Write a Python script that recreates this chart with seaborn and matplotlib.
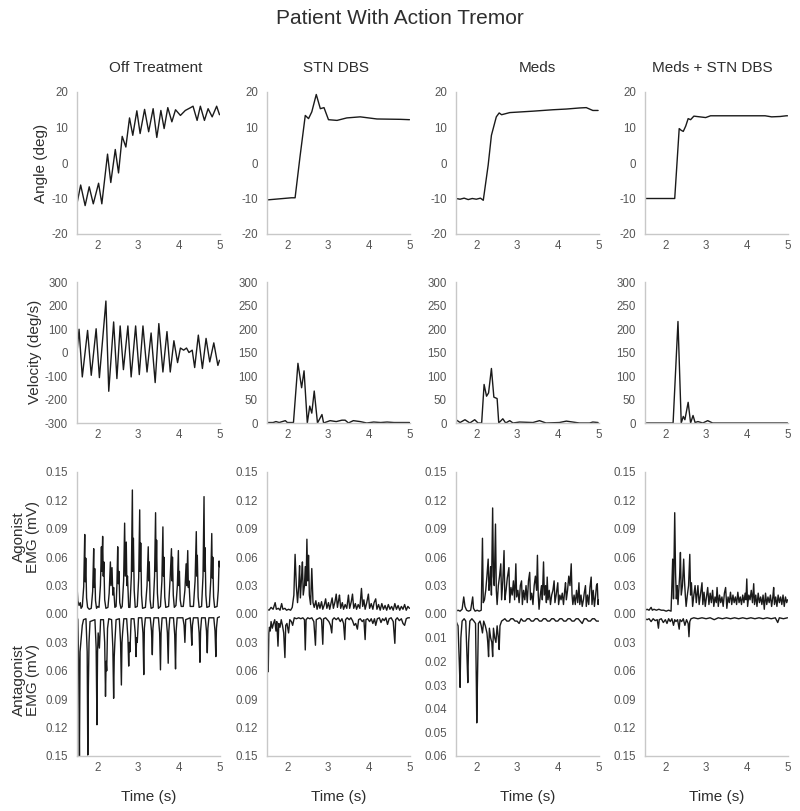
import numpy as np
import pandas as pd
import matplotlib
matplotlib.use("Agg")
import matplotlib.pyplot as plt
import seaborn as sns

sns.set_style("white")
plt.rcParams['font.family'] = ['Liberation Sans', 'DejaVu Sans']

# ---------------- data ----------------
conditions = ["Off Treatment", "STN DBS", "Meds", "Meds + STN DBS"]
x_ticks = [2, 3, 4, 5]

# Angle (deg)
off_ang_t = [1.50,1.59,1.70,1.80,1.90,2.03,2.11,2.25,2.33,2.44,2.52,2.61,2.70,2.79,2.87,2.97,3.05,3.16,3.26,3.37,3.46,3.56,3.64,3.73,3.83,3.92,4.04,4.16,4.29,4.35,4.45,4.53,4.63,4.72,4.82,4.93,5.00]
off_ang_v = [-11.4,-6.2,-12.0,-6.7,-11.5,-5.7,-11.5,2.5,-5.5,3.8,-2.8,7.5,4.5,12.7,7.8,14.7,8.3,15.1,8.8,15.3,7.2,14.8,9.7,15.6,11.6,15.0,13.4,14.8,15.6,16.0,12.0,16.0,12.0,15.3,13.0,16.0,13.6]
stn_ang_t = [1.50,1.70,1.90,2.10,2.19,2.31,2.44,2.52,2.60,2.71,2.81,2.90,3.01,3.22,3.46,3.79,4.20,4.78,5.00]
stn_ang_v = [-10.4,-10.2,-10.0,-9.8,-9.8,1.7,13.4,12.5,14.4,19.3,15.3,15.6,12.2,12.0,12.7,13.0,12.4,12.3,12.2]
med_ang_t = [1.50,1.60,1.70,1.80,1.90,2.00,2.10,2.17,2.29,2.37,2.49,2.56,2.62,2.82,3.39,3.88,4.21,4.53,4.70,4.86,4.99]
med_ang_v = [-10.0,-10.2,-9.9,-10.3,-10.0,-10.2,-9.9,-10.5,-0.6,7.8,13.0,14.1,13.6,14.2,14.6,15.0,15.2,15.5,15.6,14.8,14.8]
both_ang_t = [1.50,1.80,2.10,2.19,2.23,2.34,2.39,2.44,2.50,2.56,2.62,2.70,2.99,3.11,3.64,4.45,4.61,4.82,4.97,5.00]
both_ang_v = [-10.0,-10.0,-10.0,-10.0,-10.0,9.7,9.2,8.9,10.4,12.5,12.2,13.2,12.8,13.3,13.3,13.3,13.0,13.1,13.3,13.3]

# Velocity (deg/s)
off_vel_t = [1.50,1.55,1.63,1.76,1.85,1.97,2.05,2.21,2.28,2.40,2.48,2.56,2.64,2.75,2.83,2.94,3.03,3.12,3.22,3.32,3.42,3.51,3.61,3.71,3.79,3.88,3.97,4.04,4.12,4.19,4.25,4.33,4.39,4.48,4.58,4.67,4.76,4.86,4.96,5.00]
off_vel_v = [0,99,-104,94,-97,101,-107,219,-165,130,-111,113,-73,113,-104,113,-94,113,-83,83,-128,123,-83,89,-83,50,-43,19,10,19,0,10,-64,74,-68,60,-40,41,-55,-33]
stn_vel_t = [1.50,1.65,1.72,1.80,1.95,2.00,2.10,2.15,2.26,2.35,2.41,2.49,2.55,2.60,2.66,2.74,2.85,2.89,3.05,3.20,3.34,3.42,3.50,3.62,3.79,3.95,4.12,4.29,4.45,4.62,4.78,5.00]
stn_vel_v = [1,1,3,1,5,1,1,1,127,75,111,0,36,21,68,0,18,0,5,3,6,6,0,5,3,0,2,1,2,1,1,1]
med_vel_t = [1.50,1.60,1.72,1.84,1.96,2.04,2.13,2.19,2.25,2.30,2.37,2.43,2.51,2.55,2.65,2.72,2.82,2.90,3.06,3.39,3.55,3.71,4.04,4.21,4.53,4.78,4.86,4.99]
med_vel_v = [7,1,7,0,7,0,0,82,57,64,116,55,52,0,9,0,5,0,2,1,5,0,1,4,0,0,2,1]
both_vel_t = [1.50,2.19,2.31,2.39,2.44,2.48,2.56,2.62,2.68,2.73,2.80,2.92,3.04,3.16,5.00]
both_vel_v = [0,0,216,0,14,7,44,0,16,1,3,0,5,0,0]

# Agonist EMG (mV)
off_ag_t = [1.50,1.52,1.55,1.58,1.60,1.63,1.665,1.69,1.70,1.715,1.735,1.76,1.80,1.85,1.885,1.91,1.92,1.935,1.955,1.98,2.01,2.04,2.075,2.10,2.11,2.13,2.145,2.16,2.18,2.21,2.26,2.29,2.32,2.335,2.36,2.38,2.40,2.43,2.46,2.48,2.50,2.515,2.53,2.55,2.58,2.61,2.645,2.67,2.685,2.71,2.725,2.74,2.77,2.80,2.835,2.86,2.872,2.885,2.905,2.93,2.98,3.015,3.04,3.052,3.065,3.085,3.11,3.18,3.22,3.25,3.262,3.275,3.295,3.32,3.37,3.405,3.43,3.442,3.455,3.475,3.50,3.55,3.585,3.61,3.622,3.635,3.655,3.68,3.75,3.79,3.82,3.832,3.845,3.865,3.89,3.93,3.965,3.99,4.002,4.015,4.035,4.06,4.11,4.15,4.18,4.195,4.22,4.235,4.25,4.28,4.36,4.40,4.43,4.442,4.455,4.475,4.50,4.56,4.595,4.62,4.632,4.645,4.665,4.69,4.75,4.785,4.81,4.822,4.835,4.855,4.88,4.94,4.97,4.99,5.00]
off_ag_v = [0.030,0.014,0.009,0.012,0.006,0.008,0.029,0.084,0.034,0.059,0.017,0.007,0.005,0.006,0.024,0.069,0.028,0.048,0.014,0.006,0.008,0.007,0.030,0.071,0.045,0.082,0.040,0.055,0.015,0.006,0.007,0.022,0.055,0.030,0.049,0.020,0.028,0.007,0.008,0.030,0.071,0.032,0.045,0.012,0.006,0.008,0.035,0.096,0.040,0.076,0.030,0.040,0.007,0.007,0.040,0.131,0.045,0.080,0.025,0.007,0.008,0.038,0.110,0.045,0.075,0.020,0.006,0.007,0.030,0.071,0.035,0.055,0.015,0.006,0.007,0.040,0.107,0.045,0.078,0.022,0.006,0.008,0.035,0.092,0.040,0.060,0.018,0.007,0.008,0.040,0.069,0.035,0.060,0.020,0.007,0.009,0.030,0.067,0.030,0.045,0.015,0.008,0.008,0.025,0.053,0.030,0.067,0.028,0.035,0.008,0.008,0.035,0.087,0.040,0.062,0.018,0.007,0.008,0.040,0.124,0.045,0.070,0.020,0.007,0.008,0.035,0.085,0.038,0.060,0.018,0.007,0.008,0.025,0.056,0.050]
stn_ag_t = [1.50,1.55,1.60,1.65,1.70,1.73,1.78,1.82,1.86,1.89,1.94,1.98,2.03,2.08,2.12,2.16,2.19,2.22,2.25,2.28,2.30,2.32,2.35,2.37,2.39,2.42,2.44,2.46,2.48,2.50,2.52,2.54,2.57,2.60,2.63,2.66,2.70,2.73,2.77,2.80,2.84,2.87,2.91,2.94,2.97,3.01,3.04,3.07,3.10,3.13,3.17,3.20,3.23,3.26,3.28,3.31,3.35,3.38,3.42,3.46,3.50,3.53,3.57,3.60,3.63,3.67,3.70,3.74,3.78,3.82,3.85,3.88,3.91,3.95,3.99,4.02,4.06,4.10,4.13,4.17,4.20,4.24,4.28,4.32,4.36,4.40,4.44,4.48,4.52,4.56,4.60,4.64,4.68,4.72,4.76,4.80,4.84,4.88,4.92,4.96,5.00]
stn_ag_v = [0.005,0.004,0.007,0.005,0.012,0.005,0.006,0.004,0.011,0.005,0.006,0.004,0.005,0.004,0.007,0.020,0.063,0.030,0.012,0.030,0.051,0.017,0.040,0.055,0.020,0.030,0.050,0.030,0.079,0.035,0.062,0.020,0.010,0.048,0.012,0.007,0.014,0.005,0.012,0.006,0.013,0.005,0.010,0.016,0.006,0.012,0.005,0.011,0.017,0.006,0.013,0.021,0.007,0.015,0.020,0.006,0.012,0.005,0.010,0.006,0.020,0.006,0.013,0.021,0.006,0.011,0.005,0.010,0.006,0.027,0.008,0.015,0.005,0.012,0.021,0.006,0.011,0.005,0.012,0.016,0.005,0.010,0.004,0.011,0.005,0.009,0.004,0.010,0.005,0.008,0.004,0.011,0.005,0.009,0.004,0.008,0.005,0.010,0.004,0.008,0.006]
med_ag_t = [1.50,1.55,1.60,1.65,1.69,1.72,1.76,1.81,1.86,1.91,1.93,1.97,2.02,2.07,2.12,2.15,2.17,2.20,2.23,2.26,2.29,2.31,2.33,2.35,2.37,2.40,2.42,2.44,2.47,2.49,2.51,2.54,2.57,2.60,2.62,2.65,2.68,2.70,2.73,2.76,2.80,2.82,2.85,2.88,2.91,2.94,2.97,2.99,3.02,3.05,3.08,3.11,3.13,3.16,3.19,3.22,3.25,3.28,3.31,3.33,3.36,3.39,3.42,3.45,3.48,3.50,3.52,3.54,3.57,3.60,3.62,3.65,3.67,3.70,3.72,3.74,3.76,3.79,3.82,3.85,3.88,3.91,3.93,3.96,4.00,4.02,4.05,4.08,4.11,4.14,4.17,4.19,4.21,4.24,4.27,4.30,4.33,4.35,4.37,4.40,4.43,4.46,4.49,4.52,4.54,4.57,4.60,4.63,4.65,4.68,4.70,4.73,4.76,4.79,4.82,4.84,4.87,4.90,4.93,4.95,4.97,4.99,5.00]
med_ag_v = [0.003,0.004,0.003,0.005,0.018,0.008,0.004,0.003,0.004,0.018,0.006,0.003,0.004,0.003,0.004,0.080,0.012,0.015,0.025,0.040,0.058,0.025,0.033,0.050,0.020,0.112,0.040,0.030,0.095,0.025,0.010,0.030,0.040,0.053,0.015,0.035,0.067,0.015,0.025,0.038,0.049,0.012,0.028,0.020,0.035,0.015,0.053,0.018,0.025,0.012,0.030,0.035,0.010,0.025,0.015,0.030,0.012,0.035,0.044,0.015,0.022,0.010,0.030,0.040,0.025,0.062,0.020,0.005,0.020,0.030,0.015,0.055,0.020,0.030,0.012,0.039,0.015,0.025,0.010,0.020,0.025,0.035,0.012,0.020,0.033,0.010,0.020,0.015,0.022,0.010,0.025,0.033,0.015,0.025,0.040,0.030,0.053,0.020,0.010,0.020,0.010,0.025,0.012,0.033,0.010,0.020,0.008,0.015,0.022,0.030,0.008,0.020,0.010,0.028,0.039,0.010,0.025,0.008,0.020,0.030,0.032,0.010,0.015]
both_ag_t = [1.50,1.55,1.60,1.65,1.68,1.72,1.78,1.84,1.90,1.96,2.02,2.08,2.14,2.16,2.18,2.20,2.23,2.25,2.27,2.29,2.31,2.35,2.37,2.39,2.42,2.45,2.47,2.49,2.51,2.54,2.57,2.60,2.62,2.64,2.67,2.70,2.73,2.76,2.80,2.83,2.86,2.90,2.92,2.95,2.98,3.01,3.04,3.07,3.10,3.13,3.16,3.19,3.22,3.25,3.27,3.30,3.33,3.36,3.39,3.42,3.45,3.48,3.51,3.54,3.57,3.60,3.63,3.66,3.69,3.72,3.75,3.78,3.81,3.84,3.87,3.90,3.93,3.96,3.98,4.00,4.02,4.05,4.08,4.11,4.14,4.17,4.19,4.22,4.25,4.28,4.31,4.34,4.37,4.40,4.43,4.46,4.49,4.52,4.55,4.58,4.61,4.64,4.66,4.68,4.71,4.74,4.77,4.80,4.83,4.86,4.89,4.92,4.95,4.98,5.00]
both_ag_v = [0.004,0.005,0.004,0.007,0.004,0.005,0.004,0.005,0.004,0.004,0.003,0.004,0.003,0.030,0.058,0.016,0.107,0.044,0.016,0.030,0.010,0.040,0.065,0.020,0.030,0.058,0.035,0.020,0.008,0.020,0.030,0.063,0.020,0.033,0.008,0.020,0.030,0.012,0.030,0.010,0.020,0.033,0.010,0.023,0.008,0.018,0.028,0.010,0.022,0.012,0.025,0.008,0.018,0.012,0.028,0.008,0.020,0.012,0.018,0.008,0.022,0.028,0.006,0.018,0.012,0.023,0.010,0.020,0.012,0.018,0.010,0.023,0.012,0.018,0.010,0.020,0.012,0.022,0.015,0.037,0.008,0.020,0.015,0.025,0.012,0.032,0.010,0.020,0.008,0.022,0.012,0.018,0.010,0.020,0.005,0.022,0.010,0.018,0.012,0.020,0.008,0.018,0.028,0.010,0.018,0.008,0.020,0.012,0.018,0.010,0.020,0.008,0.018,0.012,0.015]

# Antagonist EMG (mV, drawn downward)
off_an_t = [1.50,1.52,1.54,1.56,1.575,1.60,1.63,1.66,1.72,1.75,1.765,1.78,1.795,1.82,1.94,1.97,1.99,2.005,2.02,2.05,2.08,2.15,2.18,2.20,2.215,2.23,2.25,2.28,2.35,2.38,2.40,2.415,2.43,2.46,2.54,2.57,2.59,2.605,2.62,2.65,2.72,2.75,2.77,2.785,2.80,2.83,2.90,2.93,2.95,2.965,2.98,3.01,3.09,3.12,3.14,3.155,3.18,3.30,3.33,3.35,3.365,3.39,3.50,3.53,3.55,3.565,3.59,3.69,3.72,3.74,3.755,3.78,3.87,3.90,3.92,3.935,3.96,4.10,4.13,4.15,4.17,4.28,4.30,4.32,4.335,4.36,4.47,4.50,4.52,4.535,4.56,4.65,4.68,4.70,4.715,4.74,4.86,4.89,4.91,4.925,4.95,5.00]
off_an_v = [0.003,0.006,0.050,0.150,0.040,0.027,0.012,0.006,0.005,0.040,0.149,0.075,0.030,0.008,0.006,0.035,0.117,0.040,0.020,0.036,0.006,0.006,0.030,0.087,0.050,0.060,0.015,0.005,0.006,0.035,0.089,0.045,0.030,0.006,0.005,0.030,0.075,0.030,0.020,0.005,0.005,0.025,0.055,0.030,0.040,0.005,0.005,0.020,0.045,0.025,0.030,0.004,0.004,0.020,0.064,0.015,0.004,0.004,0.018,0.043,0.015,0.004,0.004,0.020,0.059,0.020,0.004,0.004,0.020,0.052,0.018,0.004,0.004,0.022,0.058,0.018,0.004,0.004,0.012,0.030,0.006,0.004,0.015,0.033,0.012,0.004,0.004,0.020,0.051,0.018,0.004,0.004,0.018,0.041,0.015,0.004,0.004,0.018,0.045,0.015,0.004,0.003]
stn_an_t = [1.50,1.515,1.53,1.545,1.56,1.58,1.60,1.63,1.66,1.69,1.72,1.74,1.77,1.79,1.82,1.85,1.88,1.91,1.94,1.96,1.99,2.03,2.06,2.10,2.13,2.17,2.22,2.28,2.33,2.38,2.42,2.44,2.46,2.50,2.55,2.60,2.65,2.69,2.71,2.75,2.80,2.84,2.87,2.89,2.94,2.98,3.02,3.06,3.09,3.11,3.15,3.20,3.25,3.30,3.34,3.38,3.41,3.43,3.47,3.52,3.56,3.60,3.64,3.68,3.72,3.75,3.79,3.84,3.88,3.91,3.93,3.97,4.02,4.06,4.10,4.14,4.17,4.21,4.26,4.30,4.34,4.38,4.42,4.46,4.50,4.55,4.60,4.64,4.66,4.70,4.75,4.80,4.84,4.88,4.92,4.96,5.00]
stn_an_v = [0.012,0.040,0.061,0.020,0.014,0.018,0.008,0.015,0.010,0.006,0.018,0.008,0.034,0.010,0.014,0.006,0.012,0.020,0.046,0.012,0.010,0.020,0.006,0.008,0.012,0.004,0.005,0.004,0.005,0.004,0.006,0.038,0.006,0.004,0.005,0.004,0.008,0.033,0.006,0.005,0.004,0.006,0.032,0.005,0.004,0.006,0.008,0.012,0.020,0.006,0.004,0.006,0.004,0.008,0.005,0.010,0.027,0.006,0.004,0.006,0.004,0.007,0.012,0.010,0.016,0.006,0.005,0.008,0.006,0.027,0.006,0.005,0.008,0.005,0.010,0.005,0.012,0.005,0.004,0.009,0.005,0.007,0.004,0.011,0.005,0.004,0.008,0.031,0.006,0.004,0.007,0.005,0.010,0.012,0.005,0.004,0.004]
med_an_t = [1.50,1.55,1.58,1.60,1.62,1.65,1.70,1.74,1.77,1.79,1.81,1.84,1.89,1.94,1.98,2.00,2.01,2.03,2.05,2.09,2.12,2.15,2.18,2.22,2.26,2.28,2.30,2.32,2.35,2.38,2.40,2.42,2.45,2.48,2.51,2.54,2.56,2.58,2.62,2.70,2.75,2.80,2.85,2.90,2.95,3.00,3.05,3.10,3.15,3.20,3.25,3.30,3.35,3.40,3.45,3.50,3.55,3.60,3.65,3.70,3.75,3.80,3.85,3.90,3.95,4.00,4.05,4.10,4.15,4.20,4.25,4.30,4.35,4.40,4.45,4.50,4.55,4.60,4.65,4.70,4.75,4.80,4.85,4.90,4.95,5.00]
med_an_v = [0.003,0.005,0.020,0.031,0.010,0.003,0.002,0.003,0.018,0.029,0.012,0.003,0.002,0.003,0.004,0.030,0.046,0.025,0.004,0.003,0.005,0.008,0.003,0.005,0.008,0.012,0.018,0.006,0.010,0.012,0.018,0.006,0.010,0.012,0.005,0.010,0.015,0.005,0.003,0.002,0.003,0.003,0.002,0.002,0.003,0.003,0.004,0.002,0.003,0.003,0.002,0.002,0.003,0.003,0.002,0.002,0.003,0.003,0.002,0.002,0.003,0.003,0.002,0.002,0.003,0.003,0.002,0.002,0.003,0.003,0.002,0.002,0.003,0.003,0.002,0.002,0.003,0.004,0.002,0.002,0.003,0.003,0.002,0.002,0.003,0.003]
both_an_t = [1.50,1.55,1.60,1.65,1.70,1.75,1.80,1.83,1.85,1.90,1.95,2.00,2.04,2.08,2.12,2.16,2.20,2.23,2.26,2.30,2.34,2.36,2.40,2.44,2.48,2.52,2.56,2.58,2.60,2.63,2.70,2.80,2.90,3.00,3.10,3.20,3.30,3.40,3.50,3.60,3.70,3.80,3.90,4.00,4.10,4.20,4.30,4.40,4.50,4.60,4.70,4.76,4.80,4.90,5.00]
both_an_v = [0.005,0.006,0.005,0.008,0.005,0.007,0.006,0.015,0.006,0.005,0.009,0.006,0.010,0.005,0.008,0.005,0.012,0.006,0.008,0.006,0.016,0.006,0.008,0.005,0.012,0.006,0.010,0.024,0.008,0.005,0.004,0.005,0.004,0.005,0.004,0.006,0.004,0.005,0.004,0.005,0.004,0.005,0.004,0.005,0.004,0.005,0.004,0.005,0.004,0.005,0.004,0.009,0.004,0.005,0.004]

angle_t = [off_ang_t, stn_ang_t, med_ang_t, both_ang_t]
angle_v = [off_ang_v, stn_ang_v, med_ang_v, both_ang_v]
vel_t = [off_vel_t, stn_vel_t, med_vel_t, both_vel_t]
vel_v = [off_vel_v, stn_vel_v, med_vel_v, both_vel_v]
ag_t = [off_ag_t, stn_ag_t, med_ag_t, both_ag_t]
ag_v = [off_ag_v, stn_ag_v, med_ag_v, both_ag_v]
an_t = [off_an_t, stn_an_t, med_an_t, both_an_t]
an_v = [off_an_v, stn_an_v, med_an_v, both_an_v]

angle_ticks = [20, 10, 0, -10, -20]
vel_ticks_off = [300, 200, 100, 0, -100, -200, -300]
vel_ticks_on = [300, 250, 200, 150, 100, 50, 0]
emg_top_ticks = [0.15, 0.12, 0.09, 0.06, 0.03, 0.00]
emg_bottom_ticks = [0.03, 0.06, 0.09, 0.12, 0.15]
emg_bottom_ticks_meds = [0.01, 0.02, 0.03, 0.04, 0.05, 0.06]

# ---------------- figure ----------------
W, H = 800, 811
fig = plt.figure(figsize=(W / 100, H / 100), dpi=100)

col_left = [77, 267, 456, 645]
col_w = 142.5
rows = [(92, 234), (282, 423), (472, 756)]

LINE = '#1a1a1a'
SPINE = '#c8c8c8'
TICK = '#555555'
TEXT = '#2e2e2e'


def make_ax(c, r):
    top, bot = rows[r]
    return fig.add_axes([col_left[c] / W, 1 - bot / H, col_w / W, (bot - top) / H])


def fmt(v):
    s = f"{v:g}"
    return s.replace('\u2212', '-')


def style(ax, yticks, ylabels, ylim):
    ax.set_xlim(1.5, 5)
    ax.set_ylim(*ylim)
    ax.set_xticks(x_ticks)
    ax.set_xticklabels([str(x) for x in x_ticks])
    ax.set_yticks(yticks)
    ax.set_yticklabels(ylabels)
    for s in ['top', 'right']:
        ax.spines[s].set_visible(False)
    for s in ['left', 'bottom']:
        ax.spines[s].set_color(SPINE)
        ax.spines[s].set_linewidth(1.0)
    ax.tick_params(axis='both', length=0, labelsize=8.3, colors=TICK)
    ax.tick_params(axis='y', pad=6.5)
    ax.tick_params(axis='x', pad=4)
    ax.set_xlabel('')
    ax.set_ylabel('')


for c in range(4):
    # angle
    ax = make_ax(c, 0)
    sns.lineplot(x=angle_t[c], y=angle_v[c], ax=ax, color=LINE, linewidth=1.0,
                 estimator=None, sort=False)
    style(ax, angle_ticks, [fmt(v) for v in angle_ticks], (-20, 20))

    # velocity
    ax = make_ax(c, 1)
    sns.lineplot(x=vel_t[c], y=vel_v[c], ax=ax, color=LINE, linewidth=1.0,
                 estimator=None, sort=False)
    if c == 0:
        style(ax, vel_ticks_off, [fmt(v) for v in vel_ticks_off], (-300, 300))
    else:
        style(ax, vel_ticks_on, [fmt(v) for v in vel_ticks_on], (0, 300))

    # EMG
    ax = make_ax(c, 2)
    scale = 2.5 if c == 2 else 1.0
    sns.lineplot(x=ag_t[c], y=ag_v[c], ax=ax, color=LINE, linewidth=1.0,
                 estimator=None, sort=False)
    sns.lineplot(x=an_t[c], y=[-v * scale for v in an_v[c]], ax=ax, color=LINE,
                 linewidth=1.0, estimator=None, sort=False)
    bticks = emg_bottom_ticks_meds if c == 2 else emg_bottom_ticks
    yt = emg_top_ticks + [-b * scale for b in bticks]
    yl = [f"{v:.2f}" for v in emg_top_ticks] + [f"{b:.2f}" for b in bticks]
    style(ax, yt, yl, (-0.15, 0.15))
    fig.text((col_left[c] + col_w / 2) / W, 1 - 797 / H, "Time (s)",
             ha='center', va='center', fontsize=11, color=TEXT)

# titles
fig.text(0.5, 1 - 18 / H, "Patient With Action Tremor", ha='center', va='center',
         fontsize=15, color=TEXT)
title_x = [156, 336, 537, 712]
for c, name in enumerate(conditions):
    fig.text(title_x[c] / W, 1 - 68 / H, name, ha='center', va='center',
             fontsize=11, color=TEXT)

# row labels
fig.text(41 / W, 1 - 163 / H, "Angle (deg)", rotation=90, ha='center', va='center',
         fontsize=11, color=TEXT)
fig.text(35 / W, 1 - 352 / H, "Velocity (deg/s)", rotation=90, ha='center', va='center',
         fontsize=11, color=TEXT)
fig.text(26 / W, 1 - 537 / H, "Agonist\nEMG (mV)", rotation=90, ha='center', va='center',
         fontsize=11, color=TEXT, linespacing=1.05)
fig.text(26 / W, 1 - 680 / H, "Antagonist\nEMG (mV)", rotation=90, ha='center', va='center',
         fontsize=11, color=TEXT, linespacing=1.05)

fig.savefig("out.png", dpi=100)
